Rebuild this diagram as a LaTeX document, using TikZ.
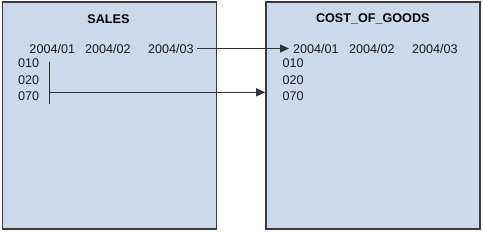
\documentclass[tikz,border=0pt]{standalone}
\usepackage{fontspec}
\setmainfont{Liberation Sans}
\usetikzlibrary{arrows.meta}
\definecolor{boxfill}{HTML}{CCD9EB}
\definecolor{boxline}{HTML}{3A3A3A}
\definecolor{conn}{HTML}{333333}
\begin{document}
\begin{tikzpicture}[x=1pt,y=-1pt,
  panel/.style={draw=boxline,line width=1.8pt,fill=boxfill,minimum width=214pt,minimum height=227pt,inner sep=0pt},
  title/.style={font=\fontsize{12.6}{14}\selectfont\bfseries,inner sep=0pt},
  lbl/.style={font=\fontsize{12.6}{14}\selectfont,inner sep=0pt,anchor=west,text=black!90},
  conline/.style={draw=conn,line width=1.5pt},
  arr/.style={conline,-{Triangle[length=9pt,width=8pt]}}]
\useasboundingbox (0,0) rectangle (483,231);
\node[panel] (lbox) at (109.5,115.8) {};
\node[panel] (rbox) at (373,115.8) {};
\node[title] (ltitle) at (108.5,18.7) {SALES};
\node[title] (rtitle) at (372.8,18.7) {COST\_OF\_GOODS};
% left box labels
\node[lbl] (l1) at (29.3,48.5) {2004/01};
\node[lbl] (l2) at (85,48.5) {2004/02};
\node[lbl] (l3) at (148,48.5) {2004/03};
\node[lbl] (la) at (18,63) {010};
\node[lbl] (lb) at (18,79.8) {020};
\node[lbl] (lc) at (18,96.5) {070};
% right box labels
\node[lbl] (r1) at (293,48.5) {2004/01};
\node[lbl] (r2) at (349,48.5) {2004/02};
\node[lbl] (r3) at (412,48.5) {2004/03};
\node[lbl] (ra) at (282.3,63) {010};
\node[lbl] (rb) at (282.3,79.8) {020};
\node[lbl] (rc) at (282.3,96.5) {070};
% connectors
\draw[arr] ([xshift=3pt]l3.east) -- ([xshift=-4pt]r1.west);
\coordinate (vtop) at (49.5,61.7);
\coordinate (vbot) at (49.5,104);
\coordinate (hstart) at (49.5,92.3);
\draw[conline] (vtop) -- (vbot);
\draw[arr] (hstart) -- (hstart -| rbox.west);
\end{tikzpicture}
\end{document}
